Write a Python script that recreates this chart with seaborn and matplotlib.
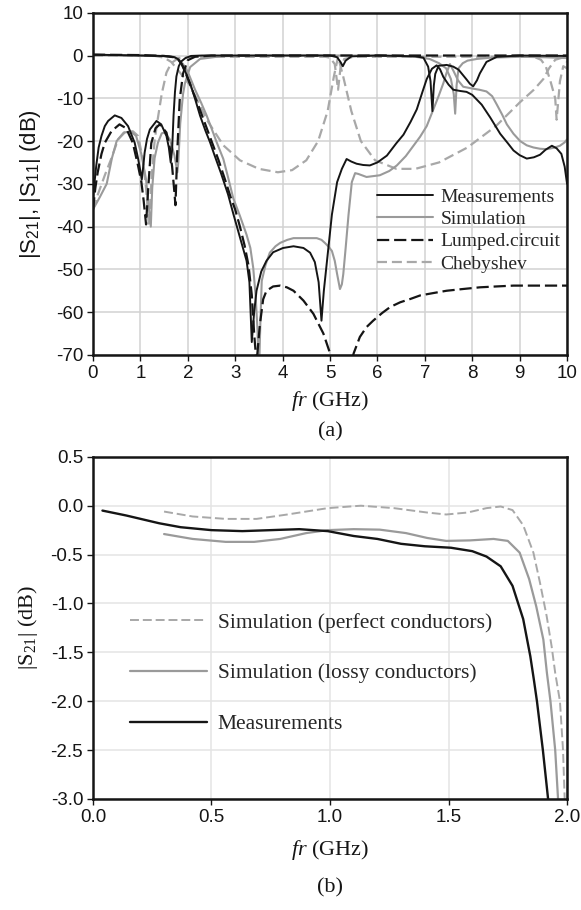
import pandas as pd
import matplotlib
matplotlib.use("Agg")
import matplotlib.pyplot as plt
import seaborn as sns

# (a) wideband response: frequency (GHz) and level (dB)
f_meas_s21 = [0, 0.5, 1.0, 1.4, 1.6, 1.72, 1.8, 1.87, 1.95, 2.05, 2.15, 2.26, 2.37, 2.47, 2.57, 2.7,
              2.85, 2.96, 3.1, 3.24, 3.3, 3.35, 3.4, 3.45, 3.55, 3.66, 3.8, 4.01, 4.23, 4.44, 4.58,
              4.68, 4.76, 4.82, 4.87, 4.93, 5.04, 5.15, 5.25, 5.35, 5.45, 5.56, 5.7, 5.84, 6.0, 6.2,
              6.4, 6.55, 6.7, 6.83, 6.95, 7.04, 7.15, 7.25, 7.32, 7.39, 7.5, 7.6, 7.75, 7.88, 8.0,
              8.2, 8.38, 8.59, 8.75, 8.87, 9.0, 9.15, 9.3, 9.43, 9.55, 9.68, 9.78, 9.88, 9.95, 10.0]
meas_s21 = [0.2, 0.1, 0, -0.1, -0.2, -0.4, -0.9, -1.9, -3.8, -6.5, -10, -14.1, -17.5, -20.3, -23.5, -27.5,
            -32.5, -37, -42.5, -48, -53, -67, -60, -55, -50.5, -48, -46, -45, -44.6, -45, -46.1,
            -48.3, -53, -62, -55, -48.7, -37.2, -29.6, -26.5, -24.2, -24.8, -25.3, -25.6, -25.7, -25, -23.4,
            -20.5, -18.5, -15.5, -12.6, -8.5, -5.5, -3.1, -2.3, -3.2, -5, -6.8, -8, -8.3, -8.5, -9.2,
            -11.5, -14.5, -18.3, -20.5, -22.2, -23.3, -24.1, -23.8, -23.2, -22, -21.1, -21.7, -23, -26, -30]

f_meas_s11 = [0, 0.03, 0.07, 0.12, 0.18, 0.25, 0.32, 0.46, 0.6, 0.74, 0.88, 0.95, 1.0, 1.03, 1.06, 1.09,
              1.14, 1.2, 1.34, 1.44, 1.55, 1.6, 1.64, 1.67, 1.7, 1.73, 1.76, 1.81, 1.86, 1.95, 2.07, 2.3,
              3, 4, 5.0, 5.15, 5.22, 5.27, 5.33, 5.45, 6, 6.5, 6.8, 6.97, 7.07, 7.12, 7.16, 7.19, 7.22,
              7.29, 7.46, 7.6, 7.71, 7.88, 7.95, 8.02, 8.1, 8.16, 8.3, 8.52, 9.0, 10.0]
meas_s11 = [-33, -30, -25.7, -21.5, -18.8, -16.5, -15.3, -14.0, -14.6, -16.5, -20.4, -24, -27, -29, -26, -22.7,
            -19.5, -17.3, -15.3, -16.1, -18.8, -21.5, -25, -22, -14, -8.5, -4.9, -2.5, -1.4, -0.6, -0.1, 0,
            0, 0, 0, -0.4, -1.5, -2.5, -1.2, -0.2, 0, -0.1, -0.2, -0.5, -2.6, -6, -13, -7, -4.3,
            -2.4, -2.2, -2.6, -3.3, -5.6, -6.6, -7.2, -5.8, -4.2, -1.5, -0.3, 0, -0.1]

f_lump_s21 = [0, 1.0, 1.5, 1.7, 1.8, 1.87, 1.95, 2.05, 2.2, 2.35, 2.5, 2.65, 2.8, 2.9, 3.0, 3.1, 3.2,
              3.28, 3.35, 3.4, 3.45, 3.52, 3.59, 3.66, 3.8, 3.95, 4.09, 4.23, 4.44, 4.65, 4.86, 5.0,
              5.1, 5.25, 5.4, 5.5, 5.63, 5.77, 5.91, 6.1, 6.27, 6.48, 6.7, 6.9, 7.2, 7.46, 7.8, 8.16,
              8.5, 8.87, 9.3, 9.85, 10]
lump_s21 = [0.2, 0.1, -0.1, -0.4, -1, -2, -4, -6.8, -11, -15.5, -20, -24.5, -29.5, -33, -36, -40, -44.5,
            -49, -56, -65, -72, -63, -57, -55, -54, -53.8, -54.2, -55, -57.3, -60.4, -65, -69.6,
            -74, -78, -74, -69.6, -65.8, -63.5, -62, -60.2, -58.8, -57.7, -56.9, -56.1, -55.5, -55, -54.6, -54.2,
            -54.0, -53.8, -53.8, -53.8, -53.8]

f_lump_s11 = [0, 0.05, 0.1, 0.18, 0.25, 0.39, 0.56, 0.7, 0.84, 0.95, 1.02, 1.07, 1.12, 1.16, 1.23, 1.32,
              1.41, 1.55, 1.62, 1.67, 1.71, 1.74, 1.78, 1.83, 1.9, 2.0, 2.15, 2.5, 4, 6, 8, 10]
lump_s11 = [-36, -31, -27.3, -23, -20.4, -17.7, -16.1, -17, -20.4, -25.7, -29.5, -34, -39.5, -32, -20.5, -17,
            -16.1, -18, -21.5, -26, -31, -35, -22, -10.3, -4.2, -1.1, -0.3, 0, 0, 0, 0, 0]

f_sim_s21 = [0, 1.0, 1.5, 1.7, 1.8, 1.9, 2.0, 2.15, 2.28, 2.4, 2.5, 2.61, 2.75, 2.85, 2.96, 3.1, 3.24,
             3.32, 3.38, 3.43, 3.47, 3.5, 3.53, 3.56, 3.64, 3.73, 3.85, 3.95, 4.1, 4.23, 4.5, 4.72,
             4.82, 4.89, 4.97, 5.04, 5.1, 5.15, 5.21, 5.25, 5.28, 5.33, 5.39, 5.46, 5.53, 5.6, 5.77,
             6.05, 6.25, 6.41, 6.6, 6.76, 6.9, 7.04, 7.18, 7.29, 7.39, 7.46, 7.53, 7.6, 7.7, 7.81,
             7.99, 8.15, 8.3, 8.42, 8.52, 8.63, 8.73, 8.87, 9.01, 9.15, 9.29, 9.43, 9.57, 9.71,
             9.85, 9.95, 10]
sim_s21 = [0.1, 0, -0.1, -0.3, -0.8, -2, -3.8, -7.9, -11, -14.1, -17, -20.3, -24.2, -28.5, -33.4, -37.5, -41.9,
           -45, -49.6, -56, -64, -75, -63, -52.7, -49, -46.1, -44.6, -43.8, -43.1, -42.7, -42.7, -42.7,
           -43.1, -43.8, -44.7, -45.7, -48, -51.1, -54.6, -53.5, -51.1, -45, -37.3, -29.6, -27.5, -27.7, -28.4,
           -28, -27, -25.7, -23.5, -21.1, -19, -16.5, -12.6, -9.5, -6.5, -4, -2, -3.5, -5.8, -7.3,
           -7.7, -8, -8.4, -9.5, -11.5, -13.8, -16.1, -18.3, -20, -21, -21.5, -21.8, -21.9, -21.6,
           -21.1, -20.3, -19.6]

f_sim_s11 = [0, 0.15, 0.29, 0.4, 0.5, 0.65, 0.8, 0.91, 1.02, 1.12, 1.18, 1.22, 1.25, 1.3, 1.37, 1.45,
             1.51, 1.62, 1.72, 1.78, 1.8, 1.84, 1.9, 1.94, 2.05, 2.26, 2.68, 3, 4, 5, 6, 6.8, 7.1,
             7.3, 7.45, 7.55, 7.61, 7.64, 7.67, 7.71, 7.8, 7.9, 8.1, 8.4, 9, 9.5, 10]
sim_s11 = [-36, -33, -30, -24, -20, -18, -17.8, -18.8, -23, -29, -36, -40, -31, -24, -20.4, -18.2,
           -18, -19.6, -23.4, -27.3, -25, -16, -9, -6.5, -2.7, -0.8, -0.2, -0.1, 0, 0, 0, -0.3, -0.8,
           -1.8, -3, -5.5, -9, -13.6, -7, -3, -1.8, -1.2, -0.8, -0.5, -0.3, -0.4, -0.6]

f_cheb_s21 = [0, 1.3, 1.5, 1.65, 1.8, 2.05, 2.4, 2.75, 3.1, 3.5, 3.9, 4.2, 4.5, 4.75, 4.95, 5.08, 5.17,
              5.28, 5.45, 5.65, 5.95, 6.4, 6.8, 7.3, 7.9, 8.5, 9.0, 9.3, 9.5, 9.62, 9.75, 9.9, 10]
cheb_s21 = [0, -0.1, -0.5, -1.5, -3.5, -7, -15, -21, -24.5, -26.5, -27.3, -26.8, -24.5, -20, -13, -5, -0.3,
            -5, -13, -20, -24.5, -26.5, -26.5, -25, -21.5, -16.5, -11, -8, -5.5, -3, -1, -0.5, -1.5]

f_cheb_s11 = [0, 0.1, 0.25, 0.39, 0.53, 0.67, 0.84, 0.95, 1.05, 1.12, 1.18, 1.24, 1.3, 1.35, 1.45, 1.55,
              1.65, 1.8, 2.2, 4.9, 5.0, 5.1, 5.17, 5.22, 5.3, 5.5, 9.3, 9.45, 9.55, 9.65, 9.75, 9.78,
              9.85, 9.92, 10]
cheb_s11 = [-36, -32.6, -28, -24, -19.6, -18, -17.7, -18.8, -24, -31, -40, -28, -20, -16, -9, -4,
            -1.8, -0.6, -0.3, -0.3, -0.5, -2, -8, -3, -0.8, -0.3, -0.3, -1, -2.5, -6, -10, -15,
            -6, -2.5, -3]

# (b) passband insertion loss
f_b_meas = [0.04, 0.14, 0.28, 0.37, 0.5, 0.63, 0.75, 0.87, 0.99, 1.1, 1.2, 1.3, 1.4, 1.51, 1.6, 1.66,
            1.72, 1.77, 1.815, 1.845, 1.86, 1.873, 1.898, 1.92]
b_meas = [-0.05, -0.10, -0.18, -0.22, -0.25, -0.26, -0.25, -0.24, -0.26, -0.31, -0.34, -0.39, -0.415, -0.43,
          -0.465, -0.52, -0.62, -0.82, -1.16, -1.54, -1.78, -2.0, -2.5, -3.0]
f_b_lossy = [0.3, 0.42, 0.56, 0.68, 0.79, 0.9, 0.99, 1.1, 1.21, 1.32, 1.41, 1.49, 1.59, 1.69, 1.75, 1.8,
             1.84, 1.87, 1.9, 1.915, 1.93, 1.95, 1.962]
b_lossy = [-0.29, -0.34, -0.37, -0.37, -0.34, -0.28, -0.25, -0.24, -0.245, -0.28, -0.33, -0.36, -0.355,
           -0.34, -0.36, -0.48, -0.75, -1.03, -1.37, -1.71, -2.0, -2.5, -3.0]
f_b_perfect = [0.3, 0.42, 0.56, 0.69, 0.82, 0.99, 1.13, 1.27, 1.41, 1.49, 1.58, 1.66, 1.72, 1.77, 1.815,
               1.858, 1.886, 1.914, 1.935, 1.95, 1.97, 1.983, 1.99]
b_perfect = [-0.06, -0.11, -0.135, -0.135, -0.09, -0.025, 0.0, -0.025, -0.07, -0.09, -0.07, -0.025, -0.008,
             -0.045, -0.2, -0.48, -0.79, -1.13, -1.44, -1.71, -2.0, -2.5, -3.0]

sns.set_theme(style="whitegrid")
plt.rcParams['font.family'] = ['Liberation Sans', 'DejaVu Sans']
plt.rcParams['mathtext.fontset'] = 'custom'
plt.rcParams['mathtext.it'] = 'Liberation Serif:italic'
plt.rcParams['mathtext.rm'] = 'Liberation Serif'
plt.rcParams['axes.unicode_minus'] = False

serif = ['Liberation Serif', 'DejaVu Serif']
black = '#151515'
grey = '#9a9a9a'
lgrey = '#a8a8a8'
dash_lump = (0, (5.5, 2.2))
dash_cheb = (0, (4.5, 2.2))


def curve(ax, x, y, color, ls='-', lw=1.5):
    d = pd.DataFrame({'f': x, 'db': y})
    sns.lineplot(data=d, x='f', y='db', ax=ax, color=color, linestyle=ls, lw=lw,
                 estimator=None, sort=False)
    return ax.lines[-1]


def style_axes(ax, gridc):
    ax.grid(True, color=gridc, lw=1.1)
    for sp in ax.spines.values():
        sp.set_color(black)
        sp.set_linewidth(1.8)
    ax.tick_params(direction='out', length=4, width=1, colors=black, bottom=True, left=True,
                   labelsize=13.5, pad=3)


fig = plt.figure(figsize=(5.81, 9.10), dpi=100)
ax1 = fig.add_axes([0.160, 0.610, 0.816, 0.376])
ax2 = fig.add_axes([0.160, 0.122, 0.816, 0.376])

#Gráfico (a)
h_cheb = curve(ax1, f_cheb_s21, cheb_s21, lgrey, dash_cheb, 1.6)
curve(ax1, f_cheb_s11, cheb_s11, lgrey, dash_cheb, 1.6)
h_sim = curve(ax1, f_sim_s21, sim_s21, grey, '-', 1.5)
curve(ax1, f_sim_s11, sim_s11, grey, '-', 1.5)
h_lump = curve(ax1, f_lump_s21, lump_s21, black, dash_lump, 1.6)
curve(ax1, f_lump_s11, lump_s11, black, dash_lump, 1.6)
h_meas = curve(ax1, f_meas_s21, meas_s21, black, '-', 1.4)
curve(ax1, f_meas_s11, meas_s11, black, '-', 1.4)

ax1.set_xlim(0, 10)
ax1.set_ylim(-70, 10)
ax1.set_xticks(range(0, 11))
ax1.set_yticks(range(-70, 11, 10))
style_axes(ax1, '#d2d2d2')
ax1.set_ylabel('|S$_\\mathregular{21}$|, |S$_\\mathregular{11}$| (dB)', fontsize=16, color=black)
ax1.yaxis.set_label_coords(-0.105, 0.5)
ax1.set_xlabel('$\\mathit{fr}$ (GHz)', family=serif, fontsize=16, color=black)
ax1.xaxis.set_label_coords(0.5, -0.1)
ax1.legend([h_meas, h_sim, h_lump, h_cheb],
           ['Measurements', 'Simulation', 'Lumped.circuit', 'Chebyshev'],
           loc='upper left', bbox_to_anchor=(0.599, 0.487), frameon=False,
           prop={'family': serif, 'size': 14}, handlelength=2.9, handletextpad=0.36,
           labelspacing=0.24, borderpad=0, borderaxespad=0)

#Gráfico (b)
h_perf = curve(ax2, f_b_perfect, b_perfect, lgrey, (0, (4.6, 2.0)), 1.4)
h_lossy = curve(ax2, f_b_lossy, b_lossy, grey, '-', 1.6)
h_bmeas = curve(ax2, f_b_meas, b_meas, black, '-', 1.7)

ax2.set_xlim(0, 2.0)
ax2.set_ylim(-3.0, 0.5)
ax2.set_xticks([0, 0.5, 1.0, 1.5, 2.0])
ax2.set_xticklabels(['0.0', '0.5', '1.0', '1.5', '2.0'])
yt = [0.5, 0.0, -0.5, -1.0, -1.5, -2.0, -2.5, -3.0]
ax2.set_yticks(yt)
ax2.set_yticklabels(['%.1f' % v for v in yt])
style_axes(ax2, '#e4e4e4')
ax2.set_ylabel('|S$_\\mathregular{21}$| (dB)', family=serif, fontsize=16, color=black)
ax2.yaxis.set_label_coords(-0.112, 0.5)
ax2.set_xlabel('$\\mathit{fr}$ (GHz)', family=serif, fontsize=16, color=black)
ax2.xaxis.set_label_coords(0.5, -0.115)
ax2.legend([h_perf, h_lossy, h_bmeas],
           ['Simulation (perfect conductors)', 'Simulation (lossy conductors)', 'Measurements'],
           loc='upper left', bbox_to_anchor=(0.078, 0.545), frameon=False,
           prop={'family': serif, 'size': 15.5}, handlelength=3.6, handletextpad=0.47,
           labelspacing=1.43, borderpad=0, borderaxespad=0)

fig.text(0.568, 1 - 432 / 910, '(a)', family=serif, fontsize=16, ha='center', va='center', color=black)
fig.text(0.568, 1 - 888 / 910, '(b)', family=serif, fontsize=16, ha='center', va='center', color=black)

fig.savefig('out.png', dpi=100)
